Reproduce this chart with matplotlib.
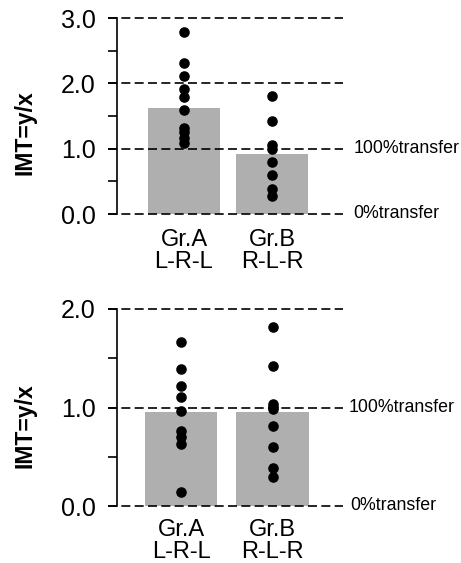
import matplotlib
matplotlib.use("Agg")
import matplotlib.pyplot as plt
from matplotlib.ticker import MultipleLocator

plt.rcParams['font.family'] = ['Liberation Sans', 'DejaVu Sans']

categories = ["Gr.A\nL-R-L", "Gr.B\nR-L-R"]

# Top panel
top_bar_means = [1.62, 0.92]
top_dots_A = [2.79, 2.31, 2.11, 1.92, 1.79, 1.59, 1.32, 1.25, 1.17, 1.09]
top_dots_B = [1.80, 1.42, 1.05, 1.00, 0.79, 0.59, 0.39, 0.27]
top_yticks = [0.0, 1.0, 2.0, 3.0]

# Bottom panel
bot_bar_means = [0.95, 0.95]
bot_dots_A = [1.66, 1.39, 1.22, 1.11, 0.96, 0.76, 0.70, 0.63, 0.14]
bot_dots_B = [1.82, 1.42, 1.04, 1.01, 0.98, 0.81, 0.60, 0.39, 0.29]
bot_yticks = [0.0, 1.0, 2.0]

ref_lines = {"100%transfer": 1.0, "0%transfer": 0.0}

W, H = 461, 563
fig = plt.figure(figsize=(W / 100, H / 100), dpi=100)


def make_panel(rect, means, dotsA, dotsB, yticks, xlim, barw, lab_x, ylab_y, xpad):
    ax = fig.add_axes(rect)
    xs = list(range(len(categories)))
    ax.bar(xs, means, width=barw, color="#afafaf", edgecolor="none", zorder=1)
    ax.plot([xs[0]] * len(dotsA), dotsA, 'o', color="black", ms=6.6, zorder=3)
    ax.plot([xs[1]] * len(dotsB), dotsB, 'o', color="black", ms=6.6, zorder=3)
    # dashed reference lines at every major tick
    for yv in yticks:
        ax.plot([-0.04, 1.0], [yv, yv], transform=ax.get_yaxis_transform(),
                color="black", lw=1.2, ls=(0, (5.4, 2.6)), clip_on=False, zorder=2)
    for name, yv in ref_lines.items():
        ax.text(lab_x[name], yv, name, transform=ax.get_yaxis_transform(),
                ha="left", va="center", fontsize=12.8)
    ax.set_xlim(*xlim)
    ax.set_ylim(yticks[0], yticks[-1])
    for s in ["top", "right", "bottom"]:
        ax.spines[s].set_visible(False)
    ax.spines["left"].set_linewidth(1.2)
    ax.set_yticks(yticks)
    ax.set_yticklabels([f"{v:.1f}" for v in yticks], fontsize=18)
    ax.yaxis.set_minor_locator(MultipleLocator(0.5))
    ax.tick_params(axis="y", which="both", length=6.5, width=1.2, pad=9)
    ax.set_xticks(xs)
    ax.set_xticklabels(categories, fontsize=17, linespacing=1.0)
    ax.tick_params(axis="x", length=0, pad=xpad)
    fig.text(25 / W, 1 - ylab_y / H, "IMT=y/x", rotation=90, ha="center",
             va="center", fontsize=16.5, fontweight="bold")
    return ax


make_panel([117 / W, 1 - 214 / H, 226 / W, 196 / H],
           top_bar_means, top_dots_A, top_dots_B, top_yticks,
           (-0.761, 1.807), 0.82,
           {"100%transfer": 1.049, "0%transfer": 1.044}, 133, 11)

make_panel([117 / W, 1 - 506 / H, 226 / W, 197 / H],
           bot_bar_means, bot_dots_A, bot_dots_B, bot_yticks,
           (-0.70, 1.77), 0.79,
           {"100%transfer": 1.027, "0%transfer": 1.031}, 426, 9)

fig.savefig("out.png", dpi=100)
